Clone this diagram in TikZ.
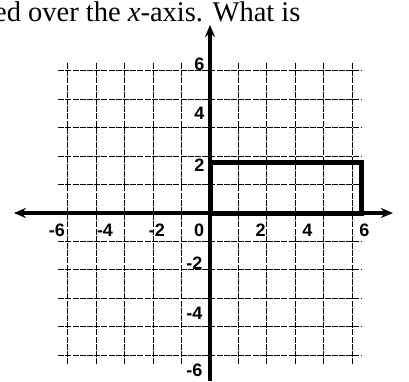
\documentclass[tikz,border=0pt]{standalone}
\usepackage{fontspec}
\setmainfont{Liberation Serif}
\newfontfamily\labfont{Liberation Sans}
\usetikzlibrary{arrows.meta}
\begin{document}
\begin{tikzpicture}[
  gridline/.style={line width=1.1pt, dash pattern=on 6pt off 1.2pt},
  axisline/.style={line width=3.4pt},
  tipstyle/.style={-{Stealth[length=12pt,width=10pt]}},
  rectline/.style={line width=5pt},
  lab/.style={font=\labfont\bfseries\fontsize{18}{18}\selectfont, inner sep=0pt},
  toptext/.style={font=\fontsize{28.5}{30}\selectfont, inner sep=0pt, anchor=base west}
]
\useasboundingbox (0pt,0pt) rectangle (409pt,-382pt);
\node[toptext] (txt) at (-6pt,-22pt) {ed over the \textit{x}-axis. What is};
\begin{scope}[shift={(210pt,-213pt)}, x=25.3pt, y=25.2pt]
  \draw[gridline] (-6,-6) grid (6,6);
  \coordinate (O) at (0,0);
  \coordinate (xl) at (-7.75,0);
  \coordinate (xr) at (7.23,0);
  \coordinate (yt) at (0,7.46);
  \coordinate (yb) at (0,-6.65);
  \draw[axisline,tipstyle] (O) -- (xl);
  \draw[axisline,tipstyle] (O) -- (xr);
  \draw[axisline,tipstyle] (O) -- (yt);
  \draw[axisline] (O) -- (yb);
  \coordinate (r1) at (0,0);
  \coordinate (r2) at (6,2);
  \draw[rectline] (r1) rectangle (r2);
  % x labels
  \node[lab] (xm6) at (-6.05,-0.68) {-6};
  \node[lab] (xm4) at (-4.15,-0.68) {-4};
  \node[lab] (xm2) at (-2.1,-0.68) {-2};
  \node[lab] (x0) at (-0.43,-0.68) {0};
  \node[lab] (x2) at (2.0,-0.68) {2};
  \node[lab] (x4) at (3.85,-0.68) {4};
  \node[lab] (x6) at (6.1,-0.68) {6};
  % y labels
  \node[lab] (y6) at (-0.42,5.9) {6};
  \node[lab] (y4) at (-0.42,3.97) {4};
  \node[lab] (y2) at (-0.42,1.9) {2};
  \node[lab] (ym2) at (-0.62,-1.98) {-2};
  \node[lab] (ym4) at (-0.62,-3.97) {-4};
  \node[lab] (ym6) at (-0.62,-6.25) {-6};
\end{scope}
\end{tikzpicture}
\end{document}
